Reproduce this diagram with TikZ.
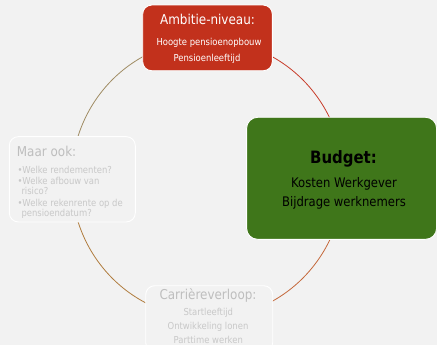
\documentclass[tikz,border=0pt]{standalone}
\usepackage{fontspec}
\setmainfont[FakeStretch=0.88]{DejaVu Sans}
\definecolor{bgc}{RGB}{242,242,242}
\definecolor{redbox}{RGB}{194,49,28}
\definecolor{greenbox}{RGB}{63,118,26}
\definecolor{fadehead}{RGB}{190,190,190}
\definecolor{fadetxt}{RGB}{200,200,200}
\definecolor{arcA}{RGB}{200,60,42}
\definecolor{arcB}{RGB}{196,104,58}
\definecolor{arcC}{RGB}{176,124,62}
\definecolor{arcD}{RGB}{160,140,100}
\begin{document}
\begin{tikzpicture}[x=1pt,y=-1pt,
  box/.style={draw=white,line width=0.9pt,rounded corners=9pt,inner sep=0pt},
  txt/.style={inner sep=0pt,anchor=base},
  ltxt/.style={inner sep=0pt,anchor=base west},
  cyc/.style={line width=0.8pt},
  head/.style={font=\fontsize{13.6}{16}\selectfont},
  small/.style={font=\fontsize{9.6}{11}\selectfont},
  mid/.style={font=\fontsize{13.2}{16}\selectfont}]
\useasboundingbox (0,0) rectangle (437,345);
\fill[bgc] (0,0) rectangle (437,345);
\begin{scope}
\clip (0,0) rectangle (437,345);
% cycle arcs
\coordinate (cc) at (207.5,179);
\draw[cyc,arcA] (cc) ++(0,-139) arc[start angle=-90,end angle=0,x radius=136,y radius=139];
\draw[cyc,arcB] (cc) ++(136,0) arc[start angle=0,end angle=90,x radius=136,y radius=139];
\draw[cyc,arcC] (cc) ++(0,139) arc[start angle=90,end angle=180,x radius=136,y radius=139];
\draw[cyc,arcD] (cc) ++(-136,0) arc[start angle=180,end angle=270,x radius=136,y radius=139];
% boxes
\node[box,fill=redbox,minimum width=129.6pt,minimum height=65.7pt] (amb) at (207.5,37.9) {};
\node[box,fill=greenbox,rounded corners=11pt,minimum width=190pt,minimum height=122pt] (bud) at (341.6,178.3) {};
\node[box,fill=bgc,minimum width=126pt,minimum height=85.3pt] (maar) at (72.3,179.3) {};
\node[box,fill=bgc,minimum width=127pt,minimum height=66pt] (car) at (209.2,318.7) {};
% Ambitie text
\node[txt,head,white] (a1) at (207.5,24.3) {Ambitie-niveau:};
\node[txt,small,white] (a2) at (209,45.3) {Hoogte pensioenopbouw};
\node[txt,small,white] (a3) at (207,62) {Pensioenleeftijd};
% Budget text
\node[txt,black,font=\fontsize{17}{20}\bfseries\selectfont] (b1) at (343.5,164) {Budget:};
\node[txt,mid,black] (b2) at (344,187.3) {Kosten Werkgever};
\node[txt,mid,black] (b3) at (344,206) {Bijdrage werknemers};
% Maar ook text
\node[ltxt,head,fadehead] (m1) at (16.7,156.3) {Maar ook:};
\node[ltxt,small,fadetxt] (m2) at (17.3,173.3) {•Welke rendementen?};
\node[ltxt,small,fadetxt] (m3) at (17.3,184.3) {•Welke afbouw van};
\node[ltxt,small,fadetxt] (m4) at (21.3,194.3) {risico?};
\node[ltxt,small,fadetxt] (m5) at (17.3,206) {•Welke rekenrente op de};
\node[ltxt,small,fadetxt] (m6) at (21.3,216) {pensioendatum?};
% Carriere text
\node[txt,head,fadehead] (c1) at (208,299) {Carrièreverloop:};
\node[txt,small,fadetxt] (c2) at (208.3,315.3) {Startleeftijd};
\node[txt,small,fadetxt] (c3) at (208,329) {Ontwikkeling lonen};
\node[txt,small,fadetxt] (c4) at (208.3,343) {Parttime werken};
\end{scope}
\end{tikzpicture}
\end{document}
